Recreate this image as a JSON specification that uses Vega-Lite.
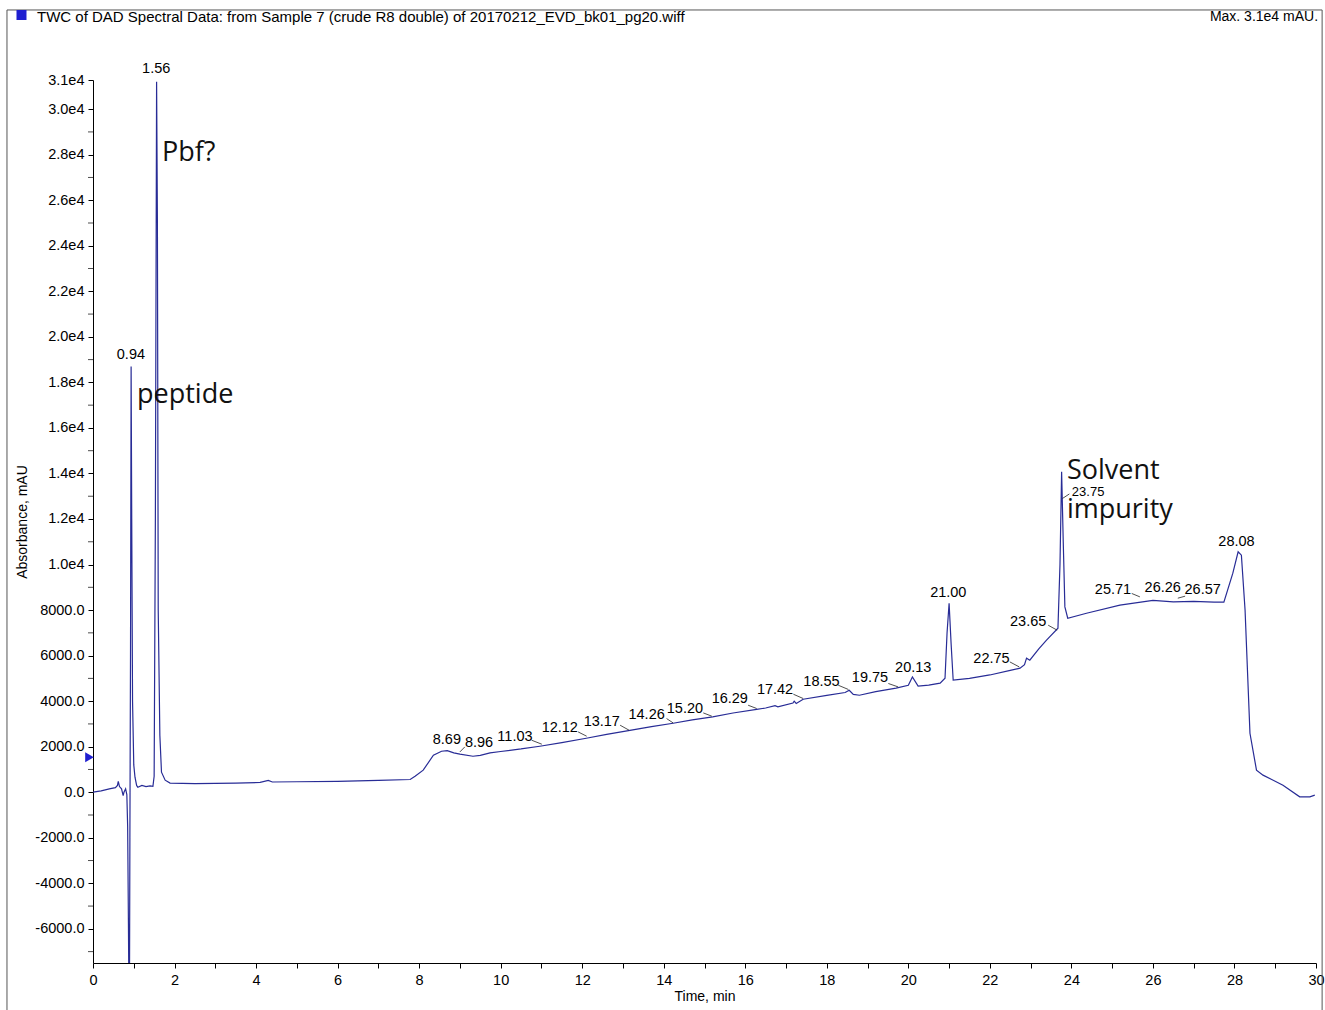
{
  "$schema": "https://vega.github.io/schema/vega-lite/v6.json",
  "autosize": "none",
  "width": 1223,
  "height": 883,
  "padding": {"left": 93, "top": 80, "right": 9, "bottom": 47},
  "background": "white",
  "config": {"view": {"stroke": null}, "font": "Liberation Sans", "axis": {"labelOverlap": false, "labelFlush": false}},
  "datasets": {
    "trace": [
      {"t":0,"v":0},{"t":0.2,"v":60},{"t":0.4,"v":150},{"t":0.55,"v":200},{"t":0.6,"v":300},{"t":0.62,"v":480},{"t":0.65,"v":250},{"t":0.7,"v":150},{"t":0.74,"v":-150},{"t":0.76,"v":0},{"t":0.8,"v":150},{"t":0.83,"v":-100},{"t":0.85,"v":-1500},{"t":0.87,"v":-6000},{"t":0.88,"v":-8500},{"t":0.895,"v":-8500},{"t":0.905,"v":-2000},{"t":0.92,"v":6000},{"t":0.935,"v":18700},{"t":0.95,"v":12000},{"t":0.97,"v":4000},{"t":1.0,"v":1200},{"t":1.03,"v":660},{"t":1.07,"v":300},{"t":1.1,"v":220},{"t":1.2,"v":300},{"t":1.3,"v":250},{"t":1.4,"v":280},{"t":1.47,"v":260},{"t":1.5,"v":700},{"t":1.53,"v":12000},{"t":1.56,"v":31200},{"t":1.58,"v":25000},{"t":1.6,"v":8000},{"t":1.64,"v":2500},{"t":1.68,"v":880},{"t":1.77,"v":530},{"t":1.89,"v":400},{"t":2.5,"v":380},{"t":3.5,"v":400},{"t":4.1,"v":430},{"t":4.3,"v":520},{"t":4.4,"v":450},{"t":5.0,"v":460},{"t":6.0,"v":480},{"t":7.0,"v":520},{"t":7.78,"v":560},{"t":7.9,"v":700},{"t":8.1,"v":970},{"t":8.35,"v":1625},{"t":8.55,"v":1800},{"t":8.69,"v":1830},{"t":8.85,"v":1730},{"t":9.0,"v":1670},{"t":9.32,"v":1580},{"t":9.5,"v":1620},{"t":9.74,"v":1730},{"t":10.0,"v":1790},{"t":10.5,"v":1900},{"t":10.96,"v":2020},{"t":11.5,"v":2180},{"t":12.1,"v":2370},{"t":12.6,"v":2540},{"t":13.17,"v":2720},{"t":13.7,"v":2880},{"t":14.23,"v":3030},{"t":14.7,"v":3180},{"t":15.2,"v":3310},{"t":15.7,"v":3480},{"t":16.28,"v":3640},{"t":16.5,"v":3700},{"t":16.73,"v":3800},{"t":16.8,"v":3750},{"t":17.17,"v":3920},{"t":17.2,"v":4000},{"t":17.25,"v":3900},{"t":17.42,"v":4085},{"t":18.0,"v":4250},{"t":18.45,"v":4380},{"t":18.55,"v":4480},{"t":18.65,"v":4300},{"t":18.8,"v":4260},{"t":19.2,"v":4420},{"t":19.7,"v":4570},{"t":20.0,"v":4700},{"t":20.1,"v":5065},{"t":20.24,"v":4660},{"t":20.5,"v":4700},{"t":20.78,"v":4790},{"t":20.9,"v":5010},{"t":20.95,"v":7000},{"t":21.0,"v":8300},{"t":21.05,"v":6500},{"t":21.1,"v":4920},{"t":21.5,"v":5000},{"t":22.0,"v":5150},{"t":22.5,"v":5350},{"t":22.74,"v":5450},{"t":22.85,"v":5600},{"t":22.9,"v":5890},{"t":22.98,"v":5800},{"t":23.2,"v":6300},{"t":23.39,"v":6680},{"t":23.67,"v":7200},{"t":23.72,"v":10000},{"t":23.76,"v":14070},{"t":23.8,"v":11000},{"t":23.84,"v":8140},{"t":23.91,"v":7640},{"t":24.37,"v":7860},{"t":25.19,"v":8215},{"t":26.0,"v":8430},{"t":26.5,"v":8360},{"t":27.0,"v":8380},{"t":27.5,"v":8350},{"t":27.74,"v":8345},{"t":27.96,"v":9620},{"t":28.09,"v":10560},{"t":28.17,"v":10410},{"t":28.26,"v":8000},{"t":28.38,"v":2590},{"t":28.54,"v":970},{"t":28.7,"v":750},{"t":29.19,"v":310},{"t":29.6,"v":-200},{"t":29.85,"v":-200},{"t":29.97,"v":-130}
    ],
    "minorTicks": [
      {"t":0,"v":-7000},{"t":0,"v":-5000},{"t":0,"v":-3000},{"t":0,"v":-1000},{"t":0,"v":1000},{"t":0,"v":3000},{"t":0,"v":5000},{"t":0,"v":7000},{"t":0,"v":9000},{"t":0,"v":11000},{"t":0,"v":13000},{"t":0,"v":15000},{"t":0,"v":17000},{"t":0,"v":19000},{"t":0,"v":21000},{"t":0,"v":23000},{"t":0,"v":25000},{"t":0,"v":27000},{"t":0,"v":29000}
    ],
    "peaks": [
      {"t":0.93,"v":19200,"label":"0.94","size":14.5},
      {"t":1.55,"v":31760,"label":"1.56","size":14.5},
      {"t":8.68,"v":2285,"label":"8.69","size":14.5},
      {"t":9.47,"v":2150,"label":"8.96","size":14.5},
      {"t":10.35,"v":2430,"label":"11.03","size":14.5},
      {"t":11.45,"v":2810,"label":"12.12","size":14.5},
      {"t":12.48,"v":3090,"label":"13.17","size":14.5},
      {"t":13.58,"v":3380,"label":"14.26","size":14.5},
      {"t":14.52,"v":3675,"label":"15.20","size":14.5},
      {"t":15.62,"v":4115,"label":"16.29","size":14.5},
      {"t":16.73,"v":4480,"label":"17.42","size":14.5},
      {"t":17.87,"v":4845,"label":"18.55","size":14.5},
      {"t":19.06,"v":4995,"label":"19.75","size":14.5},
      {"t":20.12,"v":5476,"label":"20.13","size":14.5},
      {"t":20.98,"v":8730,"label":"21.00","size":14.5},
      {"t":22.04,"v":5870,"label":"22.75","size":14.5},
      {"t":22.94,"v":7480,"label":"23.65","size":14.5},
      {"t":24.41,"v":13190,"label":"23.75","size":13},
      {"t":25.02,"v":8870,"label":"25.71","size":14.5},
      {"t":26.24,"v":8950,"label":"26.26","size":14.5},
      {"t":27.22,"v":8870,"label":"26.57","size":14.5},
      {"t":28.05,"v":10990,"label":"28.08","size":14.5}
    ],
    "leaders": [
      {"t":9.0,"v":1770,"t2":9.12,"v2":1990},
      {"t":10.76,"v":2284,"t2":11.01,"v2":2109},
      {"t":11.9,"v":2649,"t2":12.11,"v2":2460},
      {"t":12.93,"v":2943,"t2":13.15,"v2":2724},
      {"t":14.07,"v":3236,"t2":14.23,"v2":3044},
      {"t":14.97,"v":3484,"t2":15.18,"v2":3339},
      {"t":16.07,"v":3822,"t2":16.28,"v2":3677},
      {"t":17.18,"v":4305,"t2":17.42,"v2":4116},
      {"t":18.28,"v":4700,"t2":18.53,"v2":4512},
      {"t":19.51,"v":4775,"t2":19.75,"v2":4626},
      {"t":22.49,"v":5724,"t2":22.72,"v2":5504},
      {"t":23.43,"v":7336,"t2":23.65,"v2":7117},
      {"t":23.78,"v":12900,"t2":23.95,"v2":13100},
      {"t":25.48,"v":8729,"t2":25.68,"v2":8580},
      {"t":26.79,"v":8610,"t2":26.61,"v2":8522}
    ],
    "notes": [
      {"t":1.69,"v":28070,"label":"Pbf?"},
      {"t":1.08,"v":17440,"label":"peptide"},
      {"t":23.89,"v":14100,"label":"Solvent"},
      {"t":23.89,"v":12390,"label":"impurity"}
    ],
    "frame": [
      {"t":-2.11,"t2":30.15,"v":34355,"v2":-10500}
    ],
    "headerLeft": [
      {"t":-1.373,"v":34046,"label":"TWC of DAD Spectral Data: from Sample 7 (crude R8 double) of 20170212_EVD_bk01_pg20.wiff"}
    ],
    "headerRight": [
      {"t":30.05,"v":34046,"label":"Max. 3.1e4 mAU."}
    ],
    "markers": [
      {"t":-1.754,"v":34134,"shape":"square"},
      {"t":-0.086,"v":1537,"shape":"triangle-right"}
    ]
  },
  "layer": [
    {
      "data": {"name": "trace"},
      "mark": {"type": "line", "color": "#282c96", "strokeWidth": 1.2, "clip": true, "interpolate": "linear"},
      "encoding": {
        "x": {
          "field": "t", "type": "quantitative",
          "scale": {"domain": [0, 30], "nice": false, "zero": false},
          "axis": {
            "title": "Time, min", "titleFont": "Liberation Sans", "titleFontSize": 14, "titleFontWeight": "normal", "titleColor": "black", "titlePadding": 3,
            "values": [0,1,2,3,4,5,6,7,8,9,10,11,12,13,14,15,16,17,18,19,20,21,22,23,24,25,26,27,28,29,30],
            "labelExpr": "datum.value % 2 == 0 ? datum.label : ''",
            "labelFont": "Liberation Sans", "labelFontSize": 14.5, "labelColor": "black", "labelPadding": 5,
            "tickSize": 5, "tickColor": "black", "domainColor": "black", "grid": false, "labelFlush": false, "labelOverlap": false
          }
        },
        "y": {
          "field": "v", "type": "quantitative",
          "scale": {"domain": [-7500, 31280], "nice": false, "zero": false},
          "axis": {
            "title": "Absorbance, mAU", "titleFont": "Liberation Sans", "titleFontSize": 14, "titleFontWeight": "normal", "titleColor": "black", "titlePadding": 5,
            "values": [-6000,-4000,-2000,0,2000,4000,6000,8000,10000,12000,14000,16000,18000,20000,22000,24000,26000,28000,30000,31280],
            "labelExpr": "datum.value > 30500 ? '3.1e4' : (datum.value >= 10000 ? ((datum.value - datum.value % 10000) / 10000) + '.' + ((datum.value % 10000) / 1000) + 'e4' : datum.value + '.0')",
            "labelFont": "Liberation Sans", "labelFontSize": 14.5, "labelColor": "black", "labelPadding": 4,
            "tickSize": 5, "tickColor": "black", "domainColor": "black", "grid": false, "labelFlush": false, "labelOverlap": false
          }
        }
      }
    },
    {
      "data": {"name": "minorTicks"},
      "mark": {"type": "tick", "orient": "horizontal", "size": 5, "thickness": 1, "color": "black", "xOffset": -2.5, "clip": false},
      "encoding": {
        "x": {"field": "t", "type": "quantitative"},
        "y": {"field": "v", "type": "quantitative"}
      }
    },
    {
      "data": {"name": "frame"},
      "mark": {"type": "rect", "fill": null, "stroke": "#555555", "strokeWidth": 1, "clip": false},
      "encoding": {
        "x": {"field": "t", "type": "quantitative"},
        "x2": {"field": "t2"},
        "y": {"field": "v", "type": "quantitative"},
        "y2": {"field": "v2"}
      }
    },
    {
      "data": {"name": "leaders"},
      "mark": {"type": "rule", "color": "#222222", "strokeWidth": 0.8},
      "encoding": {
        "x": {"field": "t", "type": "quantitative"},
        "x2": {"field": "t2"},
        "y": {"field": "v", "type": "quantitative"},
        "y2": {"field": "v2"}
      }
    },
    {
      "data": {"name": "peaks"},
      "mark": {"type": "text", "font": "Liberation Sans", "color": "black", "align": "center", "baseline": "middle"},
      "encoding": {
        "x": {"field": "t", "type": "quantitative"},
        "y": {"field": "v", "type": "quantitative"},
        "text": {"field": "label"},
        "size": {"field": "size", "type": "quantitative", "scale": null}
      }
    },
    {
      "data": {"name": "notes"},
      "mark": {"type": "text", "font": "Open Sans", "fontSize": 27, "color": "#111111", "align": "left", "baseline": "middle"},
      "encoding": {
        "x": {"field": "t", "type": "quantitative"},
        "y": {"field": "v", "type": "quantitative"},
        "text": {"field": "label"}
      }
    },
    {
      "data": {"name": "headerLeft"},
      "mark": {"type": "text", "font": "Liberation Sans", "fontSize": 15, "color": "black", "align": "left", "baseline": "middle", "clip": false},
      "encoding": {
        "x": {"field": "t", "type": "quantitative"},
        "y": {"field": "v", "type": "quantitative"},
        "text": {"field": "label"}
      }
    },
    {
      "data": {"name": "headerRight"},
      "mark": {"type": "text", "font": "Liberation Sans", "fontSize": 14, "color": "black", "align": "right", "baseline": "middle", "clip": false},
      "encoding": {
        "x": {"field": "t", "type": "quantitative"},
        "y": {"field": "v", "type": "quantitative"},
        "text": {"field": "label"}
      }
    },
    {
      "data": {"name": "markers"},
      "mark": {"type": "point", "filled": true, "color": "#1f1fd0", "opacity": 1, "size": 100, "clip": false},
      "encoding": {
        "x": {"field": "t", "type": "quantitative"},
        "y": {"field": "v", "type": "quantitative"},
        "shape": {"field": "shape", "type": "nominal", "scale": null}
      }
    }
  ]
}
